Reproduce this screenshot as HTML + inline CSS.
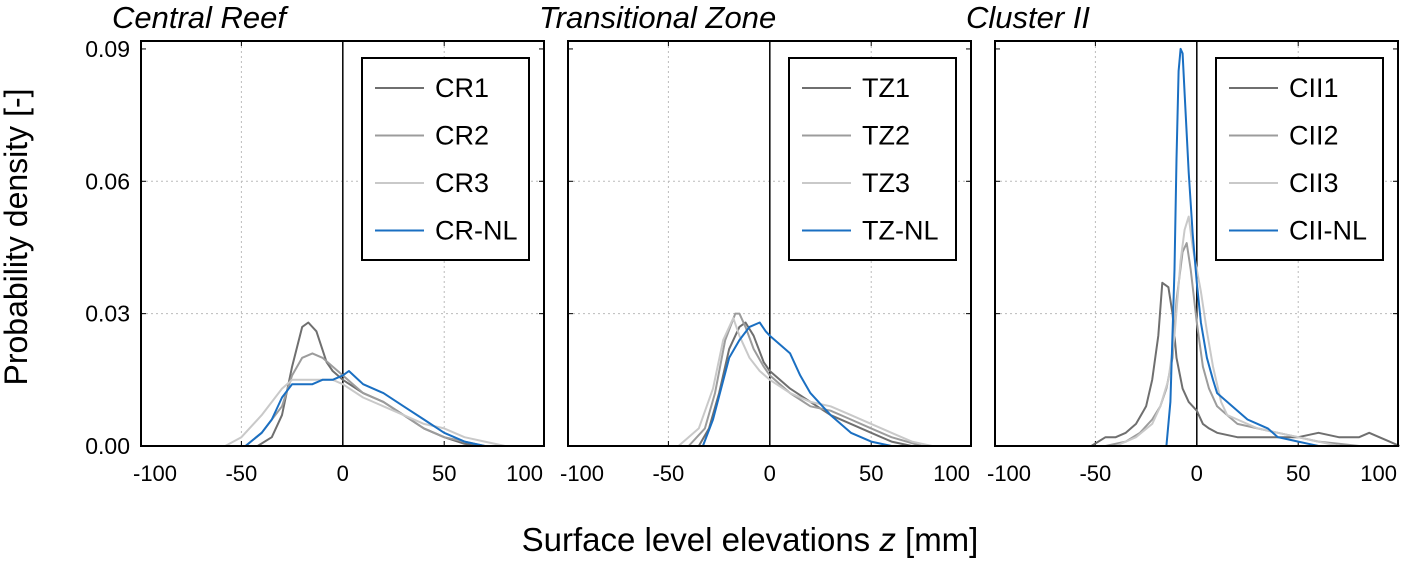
<!DOCTYPE html>
<html><head><meta charset="utf-8"><style>
body{margin:0;background:#fff;}
svg{display:block;font-family:"Liberation Sans",sans-serif;}
</style></head><body>
<svg id="chart" width="1407" height="561"></svg>
<script>
const panelTitles=["Central Reef","Transitional Zone","Cluster II"];
const seriesNames=[["CR1","CR2","CR3","CR-NL"],["TZ1","TZ2","TZ3","TZ-NL"],["CII1","CII2","CII3","CII-NL"]];
const xTicks=[-100,-50,0,50,100];
const yTicks=[0,0.03,0.06,0.09];
const yTickLabels=["0.00","0.03","0.06","0.09"];
// panel 1 (x, density)
const cr1X=[-42,-35,-30,-25,-20,-17,-13,-8,-5,0,10,20,30,40,50,60,68];
const cr1Y=[0,0.002,0.007,0.018,0.027,0.028,0.026,0.019,0.017,0.015,0.012,0.010,0.007,0.004,0.002,0.0005,0];
const cr2X=[-48,-40,-30,-25,-20,-15,-10,-5,0,10,20,30,40,50,60,70];
const cr2Y=[0,0.003,0.009,0.016,0.020,0.021,0.020,0.018,0.016,0.012,0.010,0.007,0.004,0.002,0.001,0];
const cr3X=[-58,-50,-40,-30,-25,-15,-5,0,10,20,30,40,50,60,70,80];
const cr3Y=[0,0.002,0.007,0.013,0.015,0.015,0.015,0.014,0.011,0.009,0.007,0.005,0.004,0.002,0.001,0];
const crnlX=[-48,-40,-35,-30,-25,-20,-15,-10,-5,0,3,10,20,30,40,50,60,70];
const crnlY=[0,0.003,0.006,0.011,0.014,0.014,0.014,0.015,0.015,0.016,0.017,0.014,0.012,0.009,0.006,0.003,0.001,0];
// panel 2
const tz1X=[-35,-30,-25,-20,-15,-12,-8,-3,0,10,20,30,40,50,60,70];
const tz1Y=[0,0.004,0.012,0.022,0.027,0.028,0.025,0.019,0.017,0.013,0.010,0.007,0.005,0.003,0.001,0];
const tz2X=[-40,-32,-27,-22,-17,-15,-12,-8,-3,0,10,20,30,40,50,60,75];
const tz2Y=[0,0.004,0.012,0.024,0.030,0.030,0.027,0.022,0.018,0.016,0.012,0.009,0.008,0.006,0.004,0.002,0];
const tz3X=[-45,-35,-28,-23,-18,-15,-10,-5,0,10,20,30,40,50,60,70,80];
const tz3Y=[0,0.004,0.013,0.024,0.029,0.025,0.020,0.017,0.015,0.012,0.010,0.009,0.007,0.005,0.003,0.001,0];
const tznlX=[-33,-28,-24,-20,-15,-10,-5,-2,0,5,10,15,20,30,40,50,60];
const tznlY=[0,0.006,0.013,0.020,0.024,0.027,0.028,0.026,0.025,0.023,0.021,0.016,0.012,0.007,0.003,0.001,0];
// panel 3
const cii1X=[-52,-45,-40,-35,-30,-25,-22,-19,-17,-14,-12,-10,-7,-4,0,3,6,10,20,30,40,50,60,70,80,85,90,95,100];
const cii1Y=[0,0.002,0.002,0.003,0.005,0.009,0.015,0.025,0.037,0.036,0.030,0.020,0.013,0.010,0.008,0.005,0.004,0.003,0.002,0.002,0.002,0.002,0.003,0.002,0.002,0.003,0.002,0.001,0];
const cii2X=[-45,-35,-28,-22,-18,-15,-12,-10,-7,-5,-3,0,3,6,10,15,20,30,40,50,60,70,80];
const cii2Y=[0,0.001,0.003,0.006,0.009,0.013,0.020,0.033,0.044,0.046,0.040,0.028,0.018,0.013,0.009,0.007,0.005,0.004,0.003,0.002,0.001,0.0005,0];
const cii3X=[-40,-30,-22,-18,-14,-11,-8,-6,-4,-2,0,2,5,8,12,15,20,30,40,50,60,70];
const cii3Y=[0,0.002,0.005,0.009,0.015,0.025,0.042,0.049,0.052,0.045,0.040,0.035,0.026,0.018,0.010,0.007,0.006,0.004,0.003,0.002,0.001,0];
const ciinlX=[-15,-13,-11,-10,-9,-8,-7,-6,-4,-2,0,2,5,8,10,15,20,25,30,35,40,45,50,55,60];
const ciinlY=[0,0.010,0.040,0.065,0.085,0.090,0.089,0.080,0.062,0.048,0.037,0.028,0.020,0.015,0.012,0.010,0.008,0.006,0.005,0.004,0.002,0.0015,0.001,0.0005,0];

const panelData=[[[cr1X,cr1Y],[cr2X,cr2Y],[cr3X,cr3Y],[crnlX,crnlY]],
 [[tz1X,tz1Y],[tz2X,tz2Y],[tz3X,tz3Y],[tznlX,tznlY]],
 [[cii1X,cii1Y],[cii2X,cii2Y],[cii3X,cii3Y],[ciinlX,ciinlY]]];
const colors=["#6f6f6f","#9c9c9c","#c9c9c9","#1a6fc2"];
const NS="http://www.w3.org/2000/svg";
const svg=document.getElementById("chart");
function mk(t,a,p){const e=document.createElementNS(NS,t);for(const k in a)e.setAttribute(k,a[k]);(p||svg).appendChild(e);return e;}
const lefts=[141,568,995], W=403, topY=41, bot=446;
const xmin=-99.5,xmax=99.2, ymax=0.0918;
lefts.forEach((L,pi)=>{
  const g=mk("g",{});
  
  
  const sx=v=>L+(v-xmin)/(xmax-xmin)*W;
  const sy=v=>bot-v/ymax*(bot-topY);
  [-50,50].forEach(v=>mk("line",{x1:sx(v),x2:sx(v),y1:topY,y2:bot,stroke:"#bbb","stroke-dasharray":"2,3"},g));
  [0.03,0.06].forEach(v=>mk("line",{x1:L,x2:L+W,y1:sy(v),y2:sy(v),stroke:"#bbb","stroke-dasharray":"2,3"},g));
  mk("line",{x1:sx(0),x2:sx(0),y1:topY,y2:bot,stroke:"#000","stroke-width":1.5},g);
  xTicks.forEach((v,i)=>{if(v>=xmin&&v<=xmax){mk("line",{x1:sx(v),x2:sx(v),y1:bot,y2:bot-5,stroke:"#000"},g);mk("line",{x1:sx(v),x2:sx(v),y1:topY,y2:topY+5,stroke:"#000"},g);}
    let anchor="middle", xx=sx(v);
    if(i===0){anchor="start";xx=L-8;}
    if(i===xTicks.length-1){anchor="end";xx=L+W-1;}
    const t=mk("text",{x:xx,y:481,"font-size":22,"text-anchor":anchor},g);t.textContent=v;
    
    });
  yTicks.forEach((v,i)=>{mk("line",{x1:L,x2:L+5,y1:sy(v),y2:sy(v),stroke:"#000"},g);mk("line",{x1:L+W,x2:L+W-5,y1:sy(v),y2:sy(v),stroke:"#000"},g);
    if(pi===0){const t=mk("text",{x:130,y:sy(v)+8,"font-size":23,"text-anchor":"end"},g);t.textContent=yTickLabels[i];
    
    }});
  for(let s=0;s<4;s++){
    const [xs,ys]=panelData[pi][s];
    const pts=xs.map((x,i)=>sx(x).toFixed(1)+","+sy(ys[i]).toFixed(1)).join(" ");
    const pl=mk("polyline",{points:pts,fill:"none",stroke:colors[s],"stroke-width":2,"stroke-linejoin":"round"},g);
    
    
  }
  mk("rect",{x:L,y:topY,width:W,height:bot-topY,fill:"none",stroke:"#000","stroke-width":2},g);
  const lg=mk("g",{},g);
  
  
  const lx=L+W-182;
  mk("rect",{x:lx,y:58,width:167,height:202,fill:"#fff",stroke:"#000","stroke-width":2},lg);
  for(let s=0;s<4;s++){
    const yy=88+s*47.5;
    mk("line",{x1:lx+13,x2:lx+62,y1:yy,y2:yy,stroke:colors[s],"stroke-width":2},lg);
    const t=mk("text",{x:lx+73,y:yy+9,"font-size":27},lg);t.textContent=seriesNames[pi][s];
    
    
  }
  const tt=mk("text",{x:L-29,y:28,"font-size":31,"font-style":"italic"});tt.textContent=panelTitles[pi];
  
  
});
const xt=mk("text",{x:750,y:551,"font-size":33,"text-anchor":"middle"});
xt.innerHTML='Surface level elevations <tspan font-style="italic">z</tspan> [mm]';


const yt=mk("text",{x:0,y:0,"font-size":32,"text-anchor":"middle",transform:"translate(27,237) rotate(-90)"});
yt.textContent="Probability density [-]";


</script>
</body></html>
